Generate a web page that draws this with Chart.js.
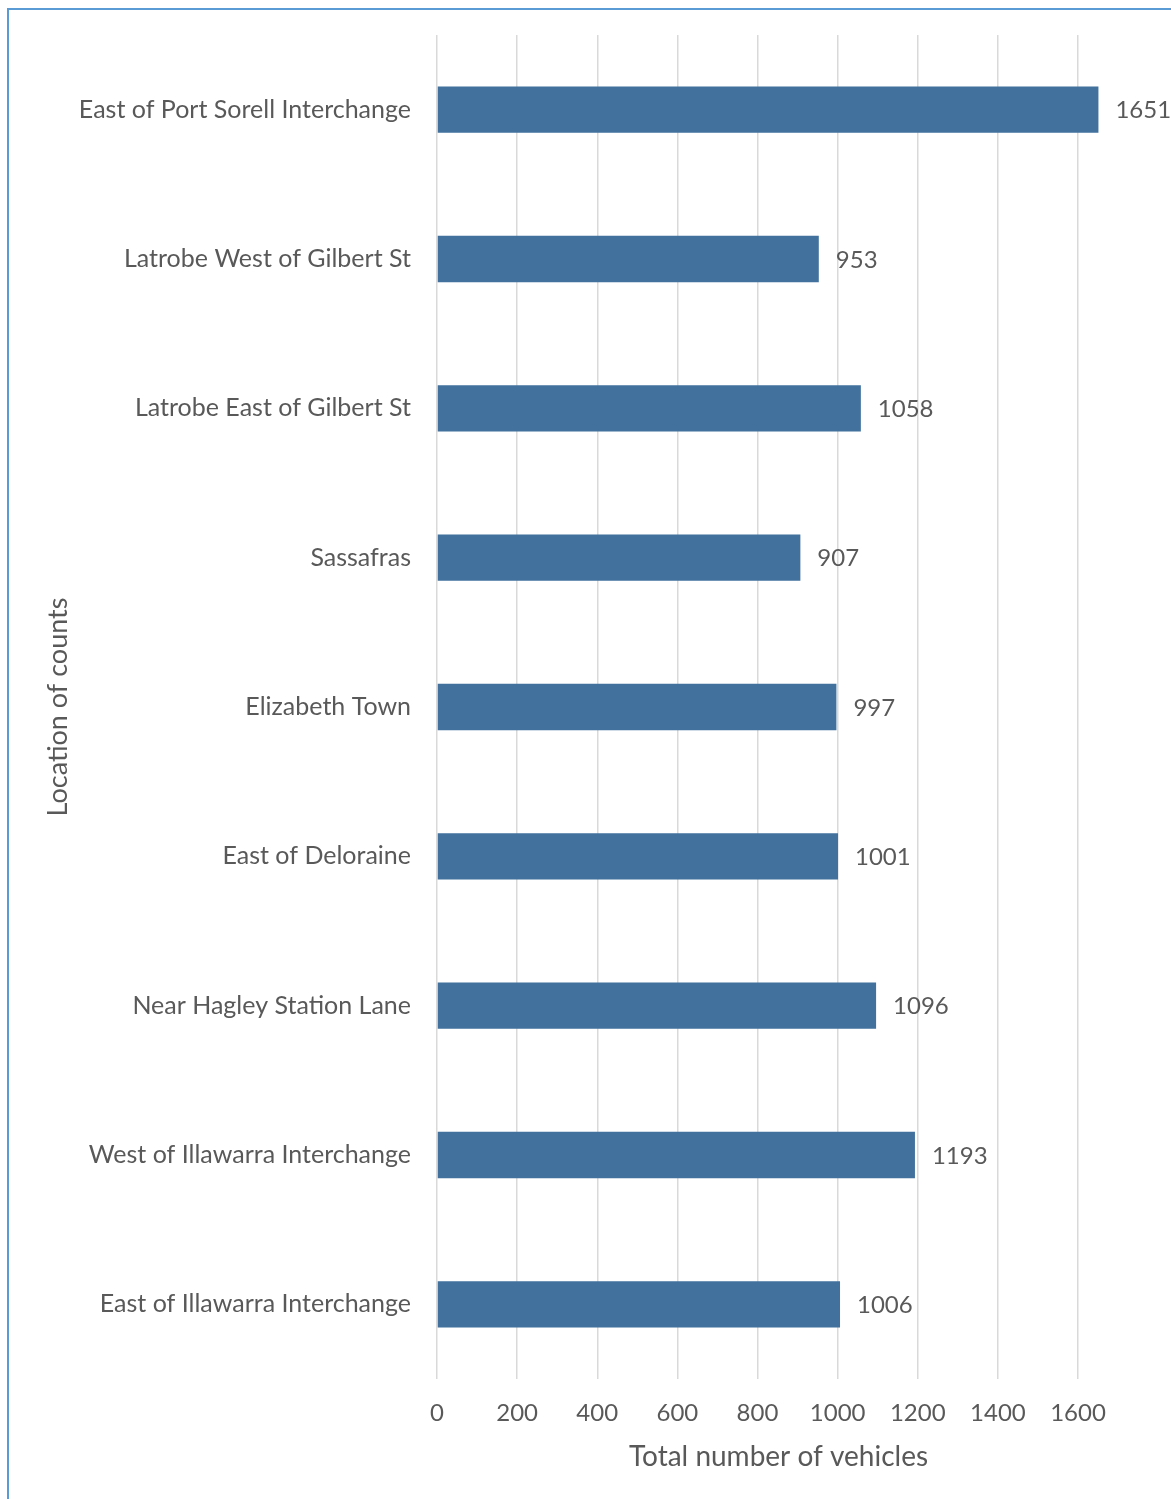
<!DOCTYPE html>
<html>
<head>
<meta charset="utf-8">
<script src="https://cdn.jsdelivr.net/npm/chart.js@4.4.1/dist/chart.umd.min.js"></script>
<style>
  html, body { margin: 0; padding: 0; background: #fff; overflow: hidden; }
  #wrap { position: relative; width: 1171px; height: 1499px; }
  #marco {
    position: absolute; left: 7px; top: 8px; width: 1200px; height: 1600px;
    border-left: 2px solid #5b9bd5; border-top: 2px solid #5b9bd5;
  }
  canvas { position: absolute; left: 0; top: 0; }
</style>
</head>
<body>
<div id="wrap">
  <div id="marco"></div>
  <canvas id="grafico" width="1171" height="1499"></canvas>
</div>
<script>
// Conteos por punto de medición
const ubicaciones = [
  'East of Port Sorell Interchange',
  'Latrobe West of Gilbert St',
  'Latrobe East of Gilbert St',
  'Sassafras',
  'Elizabeth Town',
  'East of Deloraine',
  'Near Hagley Station Lane',
  'West of Illawarra Interchange',
  'East of Illawarra Interchange'
];
const totalVehiculos = [1651, 953, 1058, 907, 997, 1001, 1096, 1193, 1006];
const ticksX = [0, 200, 400, 600, 800, 1000, 1200, 1400, 1600];
const tituloX = 'Total number of vehicles';
const tituloY = 'Location of counts';

const fuente = 'Lato, "Open Sans", sans-serif';
const gris = '#595959';

// Etiquetas con el valor al final de cada barra + título del eje X
const etiquetasValor = {
  id: 'etiquetasValor',
  afterDatasetsDraw(chart) {
    const ctx = chart.ctx;
    const meta = chart.getDatasetMeta(0);
    ctx.save();
    ctx.font = '24px ' + fuente;
    ctx.fillStyle = gris;
    ctx.textAlign = 'left';
    ctx.textBaseline = 'middle';
    meta.data.forEach((bar, i) => {
      ctx.fillText(String(totalVehiculos[i]), bar.x + 17, bar.y + 1);
    });
    // el título de abajo va algo corrido a la derecha
    const area = chart.chartArea;
    ctx.font = '28px ' + fuente;
    ctx.textAlign = 'center';
    ctx.fillText(tituloX, (area.left + area.right) / 2 + 21, 1457);
    ctx.restore();
  }
};

const ctx = document.getElementById('grafico').getContext('2d');
const chart = new Chart(ctx, {
  type: 'bar',
  data: {
    labels: ubicaciones,
    datasets: [{
      data: totalVehiculos,
      backgroundColor: '#41719c',
      borderWidth: 0,
      categoryPercentage: 1,
      barPercentage: 0.31,
      clip: false
    }]
  },
  options: {
    indexAxis: 'y',
    responsive: false,
    animation: false,
    devicePixelRatio: 1,
    layout: { padding: { left: 0, right: 93, top: 35, bottom: 0 } },
    plugins: { legend: { display: false }, tooltip: { enabled: false } },
    scales: {
      x: {
        min: 0,
        max: 1600,
        afterBuildTicks: s => { s.ticks = ticksX.map(v => ({ value: v })); },
        afterFit: s => { s.height = 120; s.paddingLeft = 0; s.paddingRight = 0; },
        grid: { color: '#d9d9d9', lineWidth: 1.5, drawTicks: false },
        border: { display: false },
        ticks: {
          color: gris,
          font: { family: fuente, size: 24 },
          padding: 20,
          callback: v => String(v)
        }
      },
      y: {
        afterFit: s => { s.width = 437; s.paddingTop = 0; s.paddingBottom = 0; },
        grid: { display: false, drawTicks: false },
        border: { display: false },
        ticks: { color: gris, font: { family: fuente, size: 25 }, padding: 26 },
        title: {
          display: true,
          text: tituloY,
          color: gris,
          font: { family: fuente, size: 27 },
          padding: { top: 42, bottom: 0 }
        }
      }
    }
  },
  plugins: [etiquetasValor]
});
</script>
</body>
</html>
